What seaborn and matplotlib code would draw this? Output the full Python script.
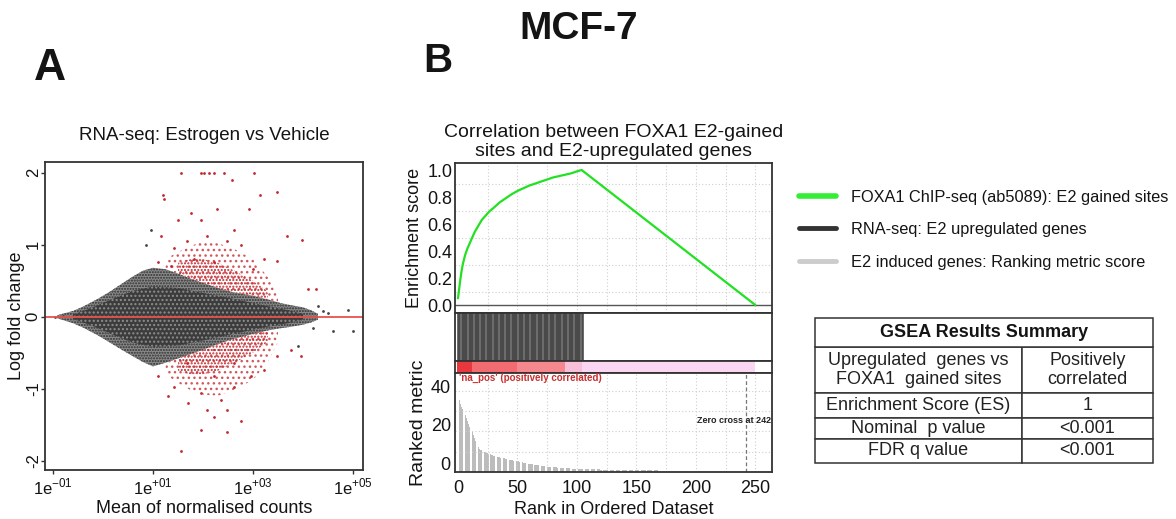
import matplotlib
matplotlib.use("Agg")
import matplotlib.pyplot as plt
from matplotlib.colors import ListedColormap, BoundaryNorm
from matplotlib.lines import Line2D
import numpy as np
import pandas as pd
import seaborn as sns

sns.set_theme(style="ticks")
plt.rcParams['font.family'] = ['Liberation Sans', 'DejaVu Sans']
plt.rcParams['mathtext.fontset'] = 'custom'
plt.rcParams['mathtext.rm'] = 'Liberation Sans'
plt.rcParams['hatch.linewidth'] = 1.0
for k in ['text.color', 'axes.labelcolor', 'xtick.color', 'ytick.color']:
    plt.rcParams[k] = '#141414'

# ---------------- panel A: MA plot ----------------
# outline of the grey (non significant) cloud, x = log10(mean counts)
cloud_log_mean = [-0.92, -0.6, -0.4, -0.1, 0.14, 0.4, 0.6, 0.8, 1.0, 1.25, 1.5,
                  1.75, 2.0, 2.3, 2.6, 3.0, 3.3, 3.55, 3.76, 4.0, 4.16, 4.3]
cloud_upper = [0.02, 0.08, 0.14, 0.25, 0.35, 0.47, 0.56, 0.64, 0.68, 0.66, 0.60,
               0.53, 0.47, 0.40, 0.34, 0.29, 0.24, 0.19, 0.16, 0.13, 0.09, 0.04]
cloud_lower = [-0.02, -0.09, -0.15, -0.26, -0.36, -0.47, -0.55, -0.63, -0.69, -0.64, -0.58,
               -0.52, -0.46, -0.38, -0.31, -0.24, -0.19, -0.16, -0.14, -0.11, -0.08, -0.04]
# dense core of the cloud
core_log_mean = [-0.6, -0.2, 0.2, 0.6, 1.0, 1.5, 2.0, 2.6, 3.2, 3.7, 4.0]
core_upper = [0.03, 0.13, 0.25, 0.36, 0.42, 0.4, 0.33, 0.25, 0.16, 0.09, 0.04]
core_lower = [-0.03, -0.13, -0.25, -0.36, -0.42, -0.4, -0.33, -0.24, -0.15, -0.09, -0.04]

# red (significant) genes: dense bands hugging the cloud ...
dense_log_mean = [1.5, 1.75, 2.0, 2.3, 2.6, 3.0, 3.3]
up_dense_top = [0.75, 0.8, 0.8, 0.75, 0.65, 0.5, 0.35]
up_dense_bottom = [0.60, 0.53, 0.47, 0.40, 0.34, 0.29, 0.24]
down_dense_top = [-0.58, -0.52, -0.46, -0.38, -0.31, -0.24, -0.19]
down_dense_bottom = [-0.75, -0.8, -0.8, -0.75, -0.65, -0.5, -0.35]
# ... and sparser bands further out
sparse_log_mean = [1.25, 1.5, 1.75, 2.0, 2.3, 2.6, 3.0, 3.3, 3.5]
up_sparse_top = [0.8, 0.9, 0.98, 1.05, 1.02, 0.95, 0.8, 0.55, 0.3]
up_sparse_bottom = [0.66, 0.60, 0.53, 0.47, 0.40, 0.34, 0.29, 0.24, 0.2]
down_sparse_top = [-0.64, -0.58, -0.52, -0.46, -0.38, -0.31, -0.24, -0.19, -0.17]
down_sparse_bottom = [-0.8, -0.92, -1.02, -1.08, -1.1, -1.02, -0.88, -0.62, -0.35]

# scattered red genes far from the cloud
red_log_mean = [1.55, 1.95, 2.01, 2.11, 2.21, 2.41, 3.02, 1.19, 1.21, 2.58, 3.47,
                3.13, 1.75, 1.16, 1.49, 1.95, 2.28, 2.62, 2.91, 3.67, 3.97, 3.48,
                4.1, 4.26, 1.09, 1.42, 1.68, 2.08, 2.48, 2.75, 3.21, 3.0, 2.21,
                1.82, 1.35,
                1.55, 1.95, 2.48, 2.75, 2.21, 1.69, 1.3, 1.09, 1.42, 1.95, 2.35,
                2.62, 2.95, 3.21, 3.48, 3.75, 3.95, 1.68, 2.21, 2.62, 2.08, 2.48]
red_lfc = [2.0, 2.0, 2.0, 2.0, 2.0, 2.0, 2.0, 1.69, 1.64, 1.9, 1.74,
           1.69, 1.44, 1.12, 1.35, 1.35, 1.49, 1.21, 1.49, 1.12, 1.07, 0.78,
           0.38, 0.38, 0.76, 0.96, 1.05, 1.12, 1.05, 1.0, 0.8, 0.66, 0.76,
           0.8, 0.7,
           -1.86, -1.57, -1.6, -1.45, -1.39, -1.2, -1.1, -0.83, -0.97, -1.06, -1.16,
           -0.97, -0.83, -0.74, -0.55, -0.46, -0.55, -0.65, -0.83, -0.65, -1.29, -1.29]

# scattered grey genes outside the cloud
grey_log_mean = [0.86, 0.95, 4.2, 4.4, 4.5, 4.6, 4.9, 5.0, 3.9, 4.3, -0.95, -0.8]
grey_lfc = [0.99, 1.21, -0.15, 0.08, 0.05, -0.2, 0.1, -0.2, -0.4, 0.15, 0.0, 0.01]

# ---------------- panel B: GSEA ----------------
es_rank = [0, 1, 2, 3, 4, 6, 8, 10, 12, 14, 16, 18, 20, 23, 26, 30, 35, 40, 45, 50,
           55, 60, 65, 70, 75, 80, 85, 90, 95, 100, 104, 250]
es_score = [0.05, 0.12, 0.19, 0.25, 0.3, 0.37, 0.42, 0.46, 0.50, 0.54, 0.57, 0.60,
            0.63, 0.66, 0.69, 0.72, 0.76, 0.79, 0.82, 0.845, 0.865, 0.885, 0.90,
            0.915, 0.93, 0.945, 0.955, 0.965, 0.975, 0.99, 1.0, 0.0]
hit_ranks = list(range(0, 106))
ranked_metric = ([35, 33, 31, 29.5, 28, 26.5, 25, 23.5, 22, 20.5, 19, 17.5, 16, 14.5, 13,
                  11.5, 10, 8.5, 7.5, 7,
                  6.6, 6.3, 6.0, 5.7, 5.4, 5.1, 4.8, 4.5, 4.3, 4.1,
                  3.9, 3.7, 3.5, 3.3, 3.1, 2.9, 2.8, 2.6, 2.5, 2.4,
                  2.3, 2.1, 2.0, 1.8, 1.7, 1.5, 1.4, 1.3, 1.2, 1.1,
                  0.9, 0.8, 0.6, 0.5, 0.3, 0.2, 0.1, -0.1, -0.2, -0.3,
                  -0.4, -0.5, -0.6, -0.7, -0.8, -0.9, -1.0, -1.1, -1.2, -1.3,
                  -1.4, -1.5, -1.6, -1.7, -1.8, -1.9, -2.0, -2.0, -2.1, -2.1,
                  -2.2, -2.2, -2.3, -2.3, -2.4, -2.4, -2.5, -2.5, -2.5, -2.6,
                  -2.6, -2.7, -2.7, -2.8, -2.8, -2.9, -2.9, -3.0, -3.0, -3.0]
                 + [-3.1] * 5 + [-3.2] * 5 + [-3.3] * 10 + [-3.4] * 10
                 + [-3.5] * 10 + [-3.6] * 10 + [-3.7] * 10 + [-3.8] * 10
                 + [-4.6] * 80)
zero_cross = 242
metric_floor = -4.7

legend_labels = ["FOXA1 ChIP-seq (ab5089): E2 gained sites",
                 "RNA-seq: E2 upregulated genes",
                 "E2 induced genes: Ranking metric score"]
table_header = "GSEA Results Summary"
table_rows = [["Upregulated  genes vs\nFOXA1  gained sites", "Positively\ncorrelated"],
              ["Enrichment Score (ES)", "1"],
              ["Nominal  p value", "<0.001"],
              ["FDR q value", "<0.001"]]
table_row_heights = [45, 25, 21, 24]

W, H = 1176, 519
fig = plt.figure(figsize=(W / 100, H / 100), dpi=100)


def box(l, t, r, b):
    return [l / W, 1 - b / H, (r - l) / W, (b - t) / H]


FRAME = '#333333'
RED = '#c0282d'

# ---------------- panel A ----------------
axA = fig.add_axes(box(45, 162, 363, 470))
ma = pd.DataFrame({'x': np.power(10.0, cloud_log_mean), 'hi': cloud_upper, 'lo': cloud_lower})
axA.fill_between(ma['x'], ma['lo'], ma['hi'], facecolor='#8a8a8a', edgecolor='#303030',
                 hatch='......', linewidth=0)
core = pd.DataFrame({'x': np.power(10.0, core_log_mean), 'hi': core_upper, 'lo': core_lower})
axA.fill_between(core['x'], core['lo'], core['hi'], facecolor='#3c3c3c', edgecolor='#8e8e8e',
                 hatch='....', linewidth=0)
for hi, lo in [(up_sparse_top, up_sparse_bottom), (down_sparse_top, down_sparse_bottom)]:
    axA.fill_between(np.power(10.0, sparse_log_mean), lo, hi, facecolor='none',
                     edgecolor='#d0585c', hatch='...', linewidth=0)
for hi, lo in [(up_dense_top, up_dense_bottom), (down_dense_top, down_dense_bottom)]:
    axA.fill_between(np.power(10.0, dense_log_mean), lo, hi, facecolor='none',
                     edgecolor=RED, hatch='.....', linewidth=0)
red = pd.DataFrame({'x': np.power(10.0, red_log_mean), 'y': red_lfc})
sns.scatterplot(data=red, x='x', y='y', ax=axA, color=RED, s=4, linewidth=0)
grey = pd.DataFrame({'x': np.power(10.0, grey_log_mean), 'y': grey_lfc})
sns.scatterplot(data=grey, x='x', y='y', ax=axA, color='#444444', s=4, linewidth=0)
axA.axhline(0, color='#e8504f', lw=1.3)
axA.set_xscale('log')
axA.set_xlim(10 ** -1.16, 10 ** 5.2)
axA.set_ylim(-2.13, 2.15)
axA.set_xticks([1e-1, 1e1, 1e3, 1e5])
axA.set_xticklabels([r'1e$^{-01}$', r'1e$^{+01}$', r'1e$^{+03}$', r'1e$^{+05}$'])
axA.xaxis.set_minor_locator(matplotlib.ticker.NullLocator())
axA.set_yticks([-2, -1, 0, 1, 2])
axA.set_yticklabels(['-2', '-1', '0', '1', '2'], rotation=90, va='center')
axA.tick_params(labelsize=12, length=3, color=FRAME, width=1)
axA.tick_params(axis='y', pad=0)
axA.tick_params(axis='x', pad=2)
axA.set_xlabel('Mean of normalised counts', fontsize=13)
axA.set_ylabel('Log fold change', fontsize=13)
axA.xaxis.set_label_coords(0.5, -0.098)
axA.yaxis.set_label_coords(-0.062, 0.5)
axA.set_title('RNA-seq: Estrogen vs Vehicle', fontsize=13.5, pad=16)
for s in axA.spines.values():
    s.set_color(FRAME)
    s.set_linewidth(1.3)

# ---------------- panel B ----------------
xl = (-2.5, 264)
grid_kw = dict(color='#cfcfcf', lw=0.8, ls=(0, (1, 2)))
axES = fig.add_axes(box(455, 163, 772, 313))
for r in range(25, 260, 25):
    axES.axvline(r, **grid_kw)
for g in [0.1, 0.3, 0.5, 0.7, 0.9]:
    axES.axhline(g, **grid_kw)
axES.axhline(0, color='#555555', lw=1.0)
es = pd.DataFrame({'rank': es_rank, 'es': es_score})
sns.lineplot(data=es, x='rank', y='es', ax=axES, color='#22e022', lw=1.6, sort=False)
axES.set_xlim(*xl)
axES.set_ylim(-0.059, 1.052)
axES.set_xticks([])
axES.set_yticks([0, 0.2, 0.4, 0.6, 0.8, 1.0])
axES.set_yticklabels(['0.0', '0.2', '0.4', '0.6', '0.8', '1.0'])
axES.tick_params(labelsize=13, length=0, pad=2)
axES.set_xlabel('')
axES.set_ylabel('Enrichment score', fontsize=13, labelpad=3)
axES.set_title('Correlation between FOXA1 E2-gained\nsites and E2-upregulated genes',
               fontsize=14, pad=5, linespacing=1.15)

axHit = fig.add_axes(box(455, 313, 772, 361))
axHit.vlines(hit_ranks, 0, 1, color='#404040', lw=1.1)
axHit.set_xlim(*xl)
axHit.set_ylim(0, 1.0)
axHit.set_xticks([])
axHit.set_yticks([])

axBar = fig.add_axes(box(455, 361, 772, 373))
cmap = ListedColormap(['#fbd6f3', '#f8c0d8', '#f5878f', '#f16b71', '#e8383e'])
norm = BoundaryNorm([-10, -3.1, -2.6, 1.0, 15, 100], cmap.N)
n_rank = len(ranked_metric)
axBar.imshow(np.array(ranked_metric)[None, :], aspect='auto', cmap=cmap, norm=norm,
             extent=[-0.5, n_rank - 0.5, 0, 1], interpolation='nearest')
axBar.set_xlim(*xl)
axBar.set_ylim(0, 1)
axBar.set_xticks([])
axBar.set_yticks([])

axM = fig.add_axes(box(455, 373, 772, 472))
for r in range(25, 260, 25):
    axM.axvline(r, **grid_kw)
for g in [6, 16.5, 27, 37.5]:
    axM.axhline(g, **grid_kw)
ranks = np.arange(n_rank)
metric = np.array(ranked_metric)
axM.bar(ranks, metric - metric_floor, bottom=metric_floor, width=0.7,
        color='#bcbcbc', linewidth=0)
axM.axvline(zero_cross, color='#777777', lw=0.9, ls=(0, (3, 2)))
axM.text(263, 22, 'Zero cross at %d' % zero_cross, ha='right', va='center',
         fontsize=6.5, weight='bold', color='#222222')
axM.text(1, 44.5, "'na_pos' (positively correlated)", ha='left', va='center',
         fontsize=7, weight='bold', color='#c83030')
axM.set_xlim(*xl)
axM.set_ylim(metric_floor, 47)
axM.set_xticks([0, 50, 100, 150, 200, 250])
axM.set_yticks([0, 20, 40])
axM.tick_params(labelsize=13, length=0)
axM.tick_params(axis='x', pad=6)
axM.tick_params(axis='y', pad=3)
axM.set_xlabel('Rank in Ordered Dataset', fontsize=13, labelpad=3)
axM.set_ylabel('Ranked metric', fontsize=14, labelpad=3)

for a in [axES, axHit, axBar, axM]:
    for s in a.spines.values():
        s.set_color(FRAME)
        s.set_linewidth(1.3)

# ---------------- legend ----------------
handles = [Line2D([], [], color='#33ee33', lw=4),
           Line2D([], [], color='#333333', lw=3.5),
           Line2D([], [], color='#cccccc', lw=3.5)]
fig.legend(handles, legend_labels, loc='upper left', bbox_to_anchor=(792 / W, 1 - 183 / H),
           frameon=False, fontsize=11.8, handlelength=2.3, handletextpad=0.9,
           labelspacing=1.07, borderaxespad=0)

# ---------------- table ----------------
axT = fig.add_axes(box(815, 318, 1153, 463))
axT.set_axis_off()
body_h = sum(table_row_heights)
total_h = body_h + 29
tb = axT.table(cellText=table_rows, cellLoc='center', colWidths=[207, 131],
               bbox=[0, 0, 1, body_h / total_h])
for (r, c), cell in tb.get_celld().items():
    cell.set_height(table_row_heights[r])
    cell.set_edgecolor('#333333')
    cell.set_linewidth(1.1)
    cell.get_text().set_fontsize(13)
    cell.get_text().set_color('#222222')
tb.auto_set_font_size(False)
th = axT.table(cellText=[[table_header]], cellLoc='center',
               bbox=[0, body_h / total_h, 1, 29 / total_h])
hc = th[0, 0]
hc.set_edgecolor('#333333')
hc.set_linewidth(1.1)
hc.get_text().set_fontsize(13)
hc.get_text().set_weight('bold')
th.auto_set_font_size(False)

# ---------------- letters / title ----------------
fig.text(50 / W, 1 - 69 / H, 'A', fontsize=32, weight='bold', ha='center', va='center')
fig.text(438 / W, 1 - 61 / H, 'B', fontsize=29, weight='bold', ha='center', va='center')
fig.text(579 / W, 1 - 29 / H, 'MCF-7', fontsize=28, weight='bold', ha='center', va='center')

fig.savefig('out.png', dpi=100, facecolor='white')
